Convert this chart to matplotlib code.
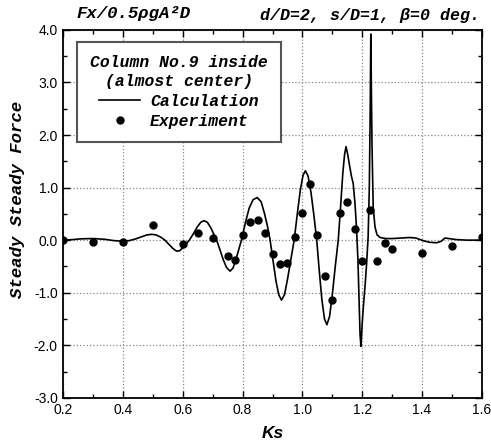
import numpy as np
import matplotlib
matplotlib.use("Agg")
import matplotlib.pyplot as plt
from matplotlib.ticker import MultipleLocator

# experiment
ks_exp = [0.2, 0.3, 0.4, 0.5, 0.6, 0.65, 0.7, 0.75, 0.775, 0.8, 0.825, 0.85,
          0.875, 0.9, 0.925, 0.95, 0.975, 1.0, 1.025, 1.05, 1.075, 1.1, 1.125,
          1.15, 1.175, 1.2, 1.225, 1.25, 1.275, 1.3, 1.4, 1.5, 1.6]
f_exp = [0.0, -0.04, -0.03, 0.28, -0.08, 0.13, 0.05, -0.30, -0.37, 0.09, 0.34, 0.38,
         0.13, -0.26, -0.45, -0.44, 0.06, 0.51, 1.06, 0.09, -0.68, -1.13, 0.52,
         0.73, 0.21, -0.39, 0.57, -0.39, -0.05, -0.16, -0.24, -0.11, 0.06]

# calculation curve (traced)
ks_calc = [0.200, 0.230, 0.260, 0.300, 0.340, 0.370, 0.400, 0.420, 0.440, 0.460,
           0.480, 0.496, 0.510, 0.525, 0.540, 0.555, 0.567, 0.579, 0.590, 0.600,
           0.612, 0.624, 0.636, 0.648, 0.660, 0.671, 0.682, 0.693, 0.703, 0.713,
           0.724, 0.735, 0.746, 0.758, 0.768, 0.778, 0.787, 0.797, 0.810, 0.822,
           0.835, 0.849, 0.862, 0.873, 0.883, 0.892, 0.902, 0.912, 0.921, 0.930,
           0.940, 0.950, 0.962, 0.973, 0.983, 0.993, 1.002, 1.010, 1.019, 1.029,
           1.039, 1.048, 1.056, 1.065, 1.074, 1.082, 1.091, 1.100, 1.110, 1.120,
           1.128, 1.135, 1.141, 1.146, 1.152, 1.157, 1.164, 1.170, 1.176, 1.181,
           1.186, 1.190, 1.193, 1.196, 1.200, 1.204, 1.210, 1.215, 1.220, 1.224,
           1.227, 1.229, 1.231, 1.233, 1.237, 1.243, 1.250, 1.260, 1.280, 1.300,
           1.330, 1.360, 1.380, 1.404, 1.425, 1.449, 1.465, 1.477, 1.490, 1.516,
           1.550, 1.600]
f_calc = [0.00, 0.01, 0.025, 0.03, 0.015, -0.01, -0.02, -0.01, 0.02, 0.06,
          0.10, 0.11, 0.10, 0.06, 0.00, -0.09, -0.16, -0.21, -0.20, -0.14,
          -0.07, 0.02, 0.13, 0.25, 0.34, 0.37, 0.34, 0.24, 0.12, 0.00,
          -0.18, -0.37, -0.52, -0.59, -0.53, -0.36, -0.18, 0.02, 0.35, 0.61,
          0.77, 0.81, 0.73, 0.51, 0.27, 0.00, -0.40, -0.79, -1.04, -1.14,
          -1.04, -0.75, -0.35, 0.02, 0.50, 0.95, 1.23, 1.32, 1.22, 0.90,
          0.45, 0.00, -0.55, -1.12, -1.50, -1.61, -1.45, -1.05, -0.50, 0.00,
          0.65, 1.25, 1.62, 1.78, 1.62, 1.45, 1.22, 1.08, 0.70, 0.25,
          -0.40, -1.20, -1.80, -2.02, -1.60, -1.27, -0.85, -0.44, 0.06, 1.00,
          2.50, 3.92, 2.80, 1.80, 0.63, 0.25, 0.10, 0.05, 0.03, 0.03,
          0.04, 0.05, 0.04, -0.01, -0.04, -0.05, -0.02, 0.04, 0.03, 0.01,
          0.00, 0.00]

mono = dict(family="Liberation Mono", weight="bold", style="italic")
sans = "Liberation Sans"

fig = plt.figure(figsize=(4.91, 4.46), dpi=100)
ax = fig.add_axes([0.129, 0.108, 0.852, 0.825])

ax.plot(ks_calc, f_calc, color="black", lw=1.2, label="Calculation")
ax.plot(ks_exp, f_exp, "o", color="black", ms=5, label="Experiment")

ax.set_xlim(0.2, 1.6)
ax.set_ylim(-3.0, 4.0)
ax.xaxis.set_major_locator(MultipleLocator(0.2))
ax.xaxis.set_minor_locator(MultipleLocator(0.1))
ax.yaxis.set_major_locator(MultipleLocator(1.0))
ax.yaxis.set_minor_locator(MultipleLocator(0.5))
ax.xaxis.set_major_formatter(lambda v, p: f"{v:.1f}")
ax.yaxis.set_major_formatter(lambda v, p: f"{v:.1f}")
ax.tick_params(which="both", direction="in", top=True, right=True, width=1.0)
ax.tick_params(which="major", length=5, labelsize=10, pad=4)
ax.tick_params(which="minor", length=3)
for lab in ax.get_xticklabels() + ax.get_yticklabels():
    lab.set_fontfamily(sans)
ax.grid(True, which="major", color="#888888", ls=":", lw=0.9)
for s in ax.spines.values():
    s.set_linewidth(1.3)

ax.set_xlabel("Ks", fontsize=12.5, fontweight="bold", fontstyle="italic",
              family=sans, labelpad=6)
ax.set_ylabel("Steady Steady Force", fontsize=12.5, **mono)
ax.yaxis.set_label_coords(-0.092, 0.54)

leg = ax.legend(loc="upper left", bbox_to_anchor=(0.033, 0.967), borderaxespad=0,
                title="Column No.9 inside\n(almost center)",
                prop=dict(size=11.8, **mono), title_fontproperties=dict(size=11.8, **mono),
                handlelength=2.5, handletextpad=0.6, borderpad=0.8,
                labelspacing=0.3, fancybox=False, framealpha=1)
leg.get_frame().set_edgecolor("#555555")
leg.get_frame().set_linewidth(1.5)
leg.get_title().set_multialignment("center")
leg.get_title().set_linespacing(1.3)
leg._legend_box.align = "center"

fig.text(0.155, 0.970, "Fx/0.5ρgA²D", fontsize=12.5, va="center", ha="left", **mono)
fig.text(0.978, 0.966, "d/D=2, s/D=1, β=0 deg.", fontsize=12, va="center", ha="right", **mono)

fig.savefig("out.png", dpi=100)
